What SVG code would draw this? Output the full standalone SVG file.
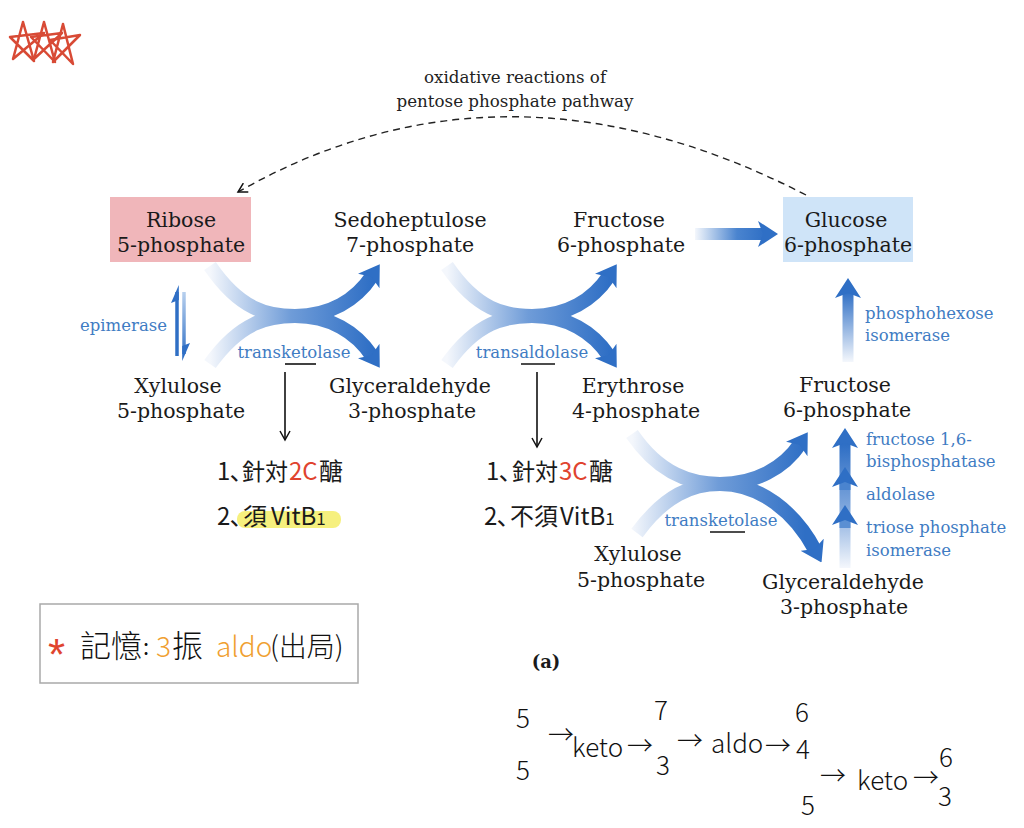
<svg xmlns="http://www.w3.org/2000/svg" width="1024" height="828" viewBox="0 0 1024 828">
<defs>
<style>
.n{font-family:"DejaVu Serif","Liberation Serif",serif;font-size:20.5px;fill:#1a1a1a;text-anchor:middle}
.e{font-family:"DejaVu Serif","Liberation Serif",serif;font-size:16.5px;fill:#3f7cc3}
.t{font-family:"DejaVu Serif","Liberation Serif",serif;font-size:16.7px;fill:#222;text-anchor:middle}
.h{font-family:"Noto Sans CJK JP","Noto Sans CJK TC","Noto Sans",sans-serif;font-size:24px;fill:#1a1a1a}
.w{font-family:"Noto Sans CJK TC","Noto Sans",sans-serif;font-size:26px;font-weight:300;fill:#111}
.red{fill:#e0442f}
.band{fill:none;stroke-width:14}
.ul{stroke:#111;stroke-width:1.6}
.star{fill:none;stroke:#d84a35;stroke-width:2.5;stroke-linejoin:round;stroke-linecap:round}
</style>
<marker id="bh" markerUnits="userSpaceOnUse" viewBox="0 0 20 26" refX="6" refY="13" markerWidth="20" markerHeight="26" orient="auto">
<path d="M0,0 L20,13 L0,26 L5,13 z" fill="#2f6fc5"/>
</marker>
<marker id="ah" markerUnits="userSpaceOnUse" viewBox="0 0 12 12" refX="10" refY="6" markerWidth="12" markerHeight="12" orient="auto">
<path d="M1,1 L10,6 L1,11" fill="none" stroke="#111" stroke-width="1.5"/>
</marker>
<linearGradient id="gx1" gradientUnits="userSpaceOnUse" x1="210" y1="0" x2="372" y2="0">
<stop offset="0" stop-color="#f4f7fc"/><stop offset="0.5" stop-color="#6f9cd8"/><stop offset="1" stop-color="#2f6fc5"/>
</linearGradient>
<linearGradient id="gx2" gradientUnits="userSpaceOnUse" x1="447" y1="0" x2="609" y2="0">
<stop offset="0" stop-color="#f4f7fc"/><stop offset="0.5" stop-color="#6f9cd8"/><stop offset="1" stop-color="#2f6fc5"/>
</linearGradient>
<linearGradient id="gx3" gradientUnits="userSpaceOnUse" x1="632" y1="0" x2="805" y2="0">
<stop offset="0" stop-color="#f4f7fc"/><stop offset="0.5" stop-color="#6f9cd8"/><stop offset="1" stop-color="#2f6fc5"/>
</linearGradient>
<linearGradient id="gh" gradientUnits="userSpaceOnUse" x1="695" y1="0" x2="765" y2="0">
<stop offset="0" stop-color="#f4f7fc"/><stop offset="0.6" stop-color="#4a84cf"/><stop offset="1" stop-color="#2f6fc5"/>
</linearGradient>
<linearGradient id="gv1" gradientUnits="userSpaceOnUse" x1="0" y1="362" x2="0" y2="292">
<stop offset="0" stop-color="#f4f7fc"/><stop offset="1" stop-color="#2f6fc5"/>
</linearGradient>
<linearGradient id="gv2" gradientUnits="userSpaceOnUse" x1="0" y1="568" x2="0" y2="445">
<stop offset="0" stop-color="#f4f7fc"/><stop offset="0.5" stop-color="#7ea6dc"/><stop offset="1" stop-color="#2f6fc5"/>
</linearGradient>
<linearGradient id="gep" gradientUnits="userSpaceOnUse" x1="0" y1="292" x2="0" y2="358">
<stop offset="0" stop-color="#b8d0ee"/><stop offset="1" stop-color="#2f6fc5"/>
</linearGradient>
</defs>
<rect width="1024" height="828" fill="#ffffff"/>

<g id="stars">
<polyline class="star" points="23,22 34,61 10,37 44,33 13,59 23,22"/>
<polyline class="star" points="44,22 55,62 31,37 62,33 34,59 44,22"/>
<polyline class="star" points="63,24 73,64 50,40 80,35 53,62 63,24"/>
</g>

<g id="oxidative-label">
<text class="t" x="515" y="83">oxidative reactions of</text>
<text class="t" x="515" y="107">pentose phosphate pathway</text>
</g>

<g id="connectors">
<path d="M 806 195 Q 505 40 238 192" fill="none" stroke="#222" stroke-width="1.4" stroke-dasharray="7,5" marker-end="url(#ah)"/>
<path class="band" stroke="url(#gx1)" d="M 210 266 C 240 310 268 316 295 316 C 330 316 356 300 372 276" marker-end="url(#bh)"/>
<path class="band" stroke="url(#gx1)" d="M 210 364 C 240 322 268 316 295 316 C 330 316 356 332 372 356" marker-end="url(#bh)"/>
<path class="band" stroke="url(#gx2)" d="M 447 266 C 477 310 505 316 532 316 C 567 316 593 300 609 276" marker-end="url(#bh)"/>
<path class="band" stroke="url(#gx2)" d="M 447 364 C 477 322 505 316 532 316 C 567 316 593 332 609 356" marker-end="url(#bh)"/>
<path class="band" stroke="url(#gx3)" d="M 632 434 C 660 475 692 484 720 484 C 755 484 784 468 800 444" marker-end="url(#bh)"/>
<path class="band" stroke="url(#gx3)" d="M 637 533 C 665 495 692 484 720 484 C 760 484 795 512 815 550" marker-end="url(#bh)"/>
<path d="M 695 234 L 764 234" fill="none" stroke="url(#gh)" stroke-width="12" marker-end="url(#bh)"/>
<path d="M 848 362 L 848 292" fill="none" stroke="url(#gv1)" stroke-width="11" marker-end="url(#bh)"/>
<path d="M 845 568 L 845 442" fill="none" stroke="url(#gv2)" stroke-width="11" marker-end="url(#bh)"/>
<path d="M 845 490 L 845 481" fill="none" stroke="#4a84cf" stroke-width="11" marker-end="url(#bh)"/>
<path d="M 845 528 L 845 519" fill="none" stroke="#5a8fd3" stroke-width="11" marker-end="url(#bh)"/>
<path d="M 177 356 L 177 292" stroke="#2f6fc5" stroke-width="3.5" fill="none"/>
<polygon points="178.8,285 178.8,300 171,303" fill="#2f6fc5"/>
<path d="M 184 292 L 184 354" stroke="url(#gep)" stroke-width="3.5" fill="none"/>
<polygon points="182.2,361 182.2,346 190,343" fill="#2f6fc5"/>
<line x1="285" y1="372" x2="285" y2="440" stroke="#111" stroke-width="1.6" marker-end="url(#ah)"/>
<line x1="537" y1="372" x2="537" y2="447" stroke="#111" stroke-width="1.6" marker-end="url(#ah)"/>
<line class="ul" x1="285" y1="364" x2="316" y2="364"/>
<line class="ul" x1="521" y1="364" x2="555" y2="364"/>
<line class="ul" x1="710" y1="532" x2="745" y2="532"/>
</g>

<g id="n-ribose5p">
<rect x="110" y="197" width="141" height="65" fill="#f0b6ba"/>
<text class="n" x="181" y="227">Ribose</text>
<text class="n" x="181" y="252">5-phosphate</text>
</g>
<g id="n-sedoheptulose7p">
<text class="n" x="410" y="227">Sedoheptulose</text>
<text class="n" x="410" y="252">7-phosphate</text>
</g>
<g id="n-fructose6p-top">
<text class="n" x="619" y="227">Fructose</text>
<text class="n" x="621" y="252">6-phosphate</text>
</g>
<g id="n-glucose6p">
<rect x="783" y="197" width="130" height="65" fill="#cfe4f8"/>
<text class="n" x="846" y="227">Glucose</text>
<text class="n" x="848" y="252">6-phosphate</text>
</g>
<g id="n-xylulose5p-a">
<text class="n" x="178" y="393">Xylulose</text>
<text class="n" x="181" y="418">5-phosphate</text>
</g>
<g id="n-glyceraldehyde3p-a">
<text class="n" x="410" y="393">Glyceraldehyde</text>
<text class="n" x="412" y="418">3-phosphate</text>
</g>
<g id="n-erythrose4p">
<text class="n" x="633" y="393">Erythrose</text>
<text class="n" x="636" y="418">4-phosphate</text>
</g>
<g id="n-fructose6p-right">
<text class="n" x="845" y="392">Fructose</text>
<text class="n" x="847" y="417">6-phosphate</text>
</g>
<g id="n-xylulose5p-b">
<text class="n" x="638" y="561">Xylulose</text>
<text class="n" x="641" y="587">5-phosphate</text>
</g>
<g id="n-glyceraldehyde3p-b">
<text class="n" x="843" y="589">Glyceraldehyde</text>
<text class="n" x="844" y="614">3-phosphate</text>
</g>

<g id="enzymes">
<text class="e" x="80" y="331">epimerase</text>
<text class="e" x="294" y="358" text-anchor="middle">transketolase</text>
<text class="e" x="532" y="358" text-anchor="middle">transaldolase</text>
<text class="e" x="721" y="526" text-anchor="middle">transketolase</text>
<text class="e" x="865" y="319">phosphohexose</text>
<text class="e" x="865" y="341">isomerase</text>
<text class="e" x="866" y="445">fructose 1,6-</text>
<text class="e" x="866" y="467">bisphosphatase</text>
<text class="e" x="866" y="500">aldolase</text>
<text class="e" x="866" y="533">triose phosphate</text>
<text class="e" x="866" y="556">isomerase</text>
</g>

<text x="546" y="668" font-family="DejaVu Serif, Liberation Serif, serif" font-size="18" font-weight="bold" fill="#1a1a1a" text-anchor="middle">(a)</text>

<g id="note-transketolase">
<rect x="237" y="511" width="104" height="17" rx="8" fill="#f6f07e"/>
<text class="h" y="480"><tspan x="217">1､</tspan><tspan x="242" font-size="23">針対</tspan><tspan x="289" class="red">2C</tspan><tspan x="319">醣</tspan></text>
<text class="h" y="525"><tspan x="217">2､</tspan><tspan x="243">須</tspan><tspan x="271">VitB</tspan><tspan font-size="17">1</tspan></text>
</g>
<g id="note-transaldolase">
<text class="h" y="480"><tspan x="486">1､</tspan><tspan x="512" font-size="23">針対</tspan><tspan x="559" class="red">3C</tspan><tspan x="589">醣</tspan></text>
<text class="h" y="525"><tspan x="484">2､</tspan><tspan x="510">不須</tspan><tspan x="560">VitB</tspan><tspan font-size="17">1</tspan></text>
</g>
<g id="note-memory">
<rect x="40" y="604" width="318" height="79" fill="none" stroke="#a9a9a9" stroke-width="1.5"/>
<text x="48" y="670" font-family="Liberation Sans, sans-serif" font-size="44" fill="#e0442f">*</text>
<text x="80" y="657" font-family="Noto Sans CJK TC, sans-serif" font-size="31" font-weight="300" fill="#111">記憶</text>
<text x="143" y="655" font-family="Noto Sans CJK TC, sans-serif" font-size="22" fill="#111">:</text>
<text x="156" y="657" font-family="Noto Sans CJK TC, sans-serif" font-size="28" font-weight="300" fill="#f0a030">3</text>
<text x="172" y="657" font-family="Noto Sans CJK TC, sans-serif" font-size="31" font-weight="300" fill="#111">振</text>
<text x="216" y="657" font-family="Noto Sans CJK TC, sans-serif" font-size="28" font-weight="300" fill="#f0a030">aldo</text>
<text x="270" y="657" font-family="Noto Sans CJK TC, sans-serif" font-size="28" font-weight="300" fill="#111">(出局)</text>
</g>
<g id="note-sequence">
<text class="w" x="516" y="728">5</text>
<text class="w" x="516" y="780">5</text>
<text class="w" x="548" y="744" font-size="16">→</text>
<text class="w" x="572" y="757">keto</text>
<text class="w" x="627" y="755" font-size="18">→</text>
<text class="w" x="654" y="720">7</text>
<text class="w" x="656" y="775">3</text>
<text class="w" x="677" y="750" font-size="16">→</text>
<text class="w" x="711" y="753">aldo</text>
<text class="w" x="765" y="755" font-size="18">→</text>
<text class="w" x="795" y="722">6</text>
<text class="w" x="796" y="759">4</text>
<text class="w" x="801" y="815">5</text>
<text class="w" x="820" y="785" font-size="24">→</text>
<text class="w" x="857" y="790">keto</text>
<text class="w" x="913" y="787" font-size="18">→</text>
<text class="w" x="939" y="767">6</text>
<text class="w" x="938" y="806">3</text>
</g>
</svg>
